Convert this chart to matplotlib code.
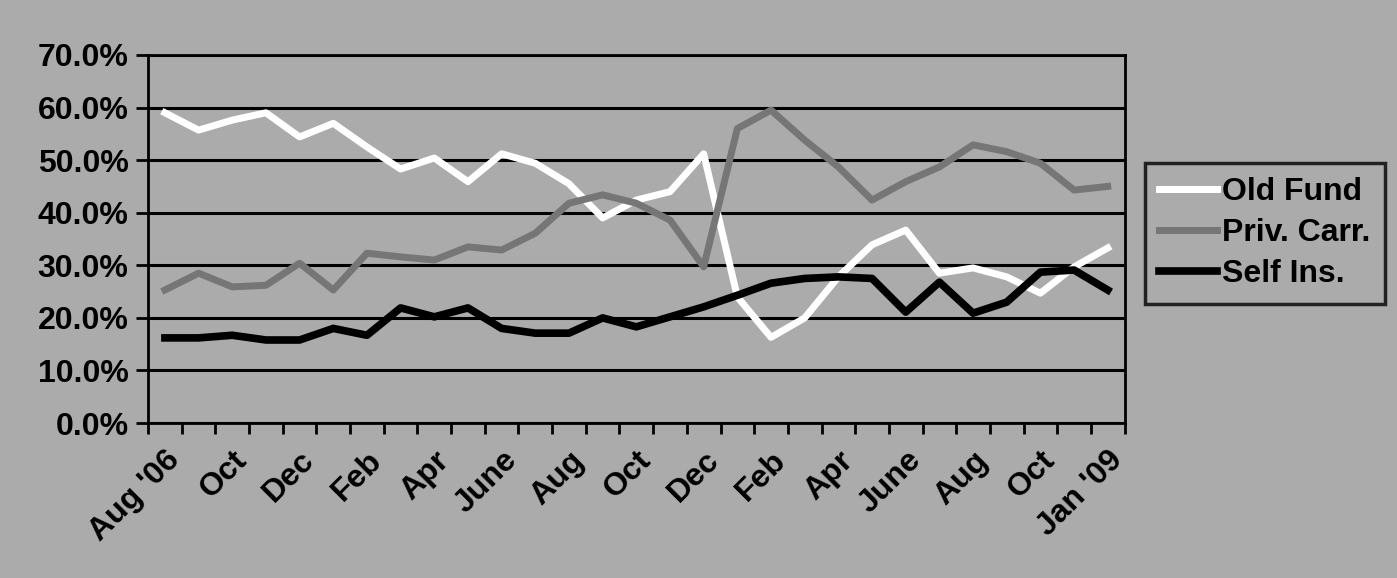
import matplotlib
matplotlib.use("Agg")
import matplotlib.pyplot as plt
import numpy as np

# 29 monthly points, labels shown every other month
months = ["Aug '06", "Sep", "Oct", "Nov", "Dec", "Jan", "Feb", "Mar", "Apr", "May",
          "June", "July", "Aug", "Sep", "Oct", "Nov", "Dec", "Jan", "Feb", "Mar",
          "Apr", "May", "June", "July", "Aug", "Sep", "Oct", "Dec", "Jan '09"]

old_fund = [59.0, 55.7, 57.6, 59.0, 54.4, 57.0, 52.5, 48.3, 50.4, 45.9,
            51.2, 49.4, 45.5, 39.0, 42.4, 44.0, 51.2, 24.0, 16.3, 20.0,
            27.8, 33.9, 36.7, 28.5, 29.5, 27.8, 24.7, 29.7, 33.3]
priv_carr = [25.3, 28.5, 25.9, 26.2, 30.4, 25.3, 32.3, 31.6, 31.0, 33.5,
             32.9, 36.1, 41.8, 43.4, 41.8, 38.6, 29.7, 56.0, 59.5, 53.8,
             48.7, 42.4, 45.9, 48.7, 52.9, 51.6, 49.4, 44.3, 45.0]
self_ins = [16.2, 16.2, 16.7, 15.8, 15.8, 18.0, 16.7, 21.9, 20.2, 21.9,
            18.0, 17.1, 17.1, 20.0, 18.3, 20.2, 22.1, 24.3, 26.6, 27.5,
            27.8, 27.5, 21.1, 26.8, 20.9, 23.0, 28.7, 29.1, 25.3]

bg = '#ababab'
font = 'Liberation Sans'
fs = 23

fig = plt.figure(figsize=(13.97, 5.78), dpi=100, facecolor=bg)
ax = fig.add_axes([0.106, 0.268, 0.699, 0.637], facecolor=bg)

x = np.arange(len(months))
ax.plot(x, old_fund, color='white', linewidth=5, label='Old Fund', zorder=3)
ax.plot(x, priv_carr, color='#767676', linewidth=5, label='Priv. Carr.', zorder=3)
ax.plot(x, self_ins, color='black', linewidth=5.5, label='Self Ins.', zorder=3)

ax.set_xlim(-0.5, len(months) - 0.5)
ax.set_ylim(0, 70)

# gridlines and y ticks
yt = np.arange(0, 71, 10)
ax.set_yticks(yt)
ax.set_yticklabels([f'{v:.1f}%' for v in yt], fontsize=fs, fontweight='bold', family=font)
ax.yaxis.grid(True, color='black', linewidth=2.2)
ax.set_axisbelow(True)
ax.tick_params(axis='y', length=9, width=2, direction='out', pad=5)

# x tick marks between categories, labels on every other category
ax.set_xticks(np.arange(-0.5, len(months), 1), minor=True)
ax.set_xticks(x[::2])
ax.set_xticklabels(months[::2], rotation=45, ha='right', rotation_mode='anchor',
                   fontsize=fs, fontweight='bold', family=font)
ax.tick_params(axis='x', which='major', length=0, pad=16)
ax.tick_params(axis='x', which='minor', length=8, width=2, direction='out')

for s in ax.spines.values():
    s.set_color('black')
    s.set_linewidth(2)

leg = ax.legend(loc='center left', bbox_to_anchor=(1.021, 0.516), frameon=True,
                prop={'family': font, 'weight': 'bold', 'size': fs},
                handlelength=1.8, handletextpad=0.15, labelspacing=0.35,
                borderpad=0.45, borderaxespad=0, fancybox=False)
leg.get_frame().set_facecolor(bg)
leg.get_frame().set_edgecolor('black')
leg.get_frame().set_linewidth(2.5)

fig.savefig('out.png', dpi=100, facecolor=bg)
